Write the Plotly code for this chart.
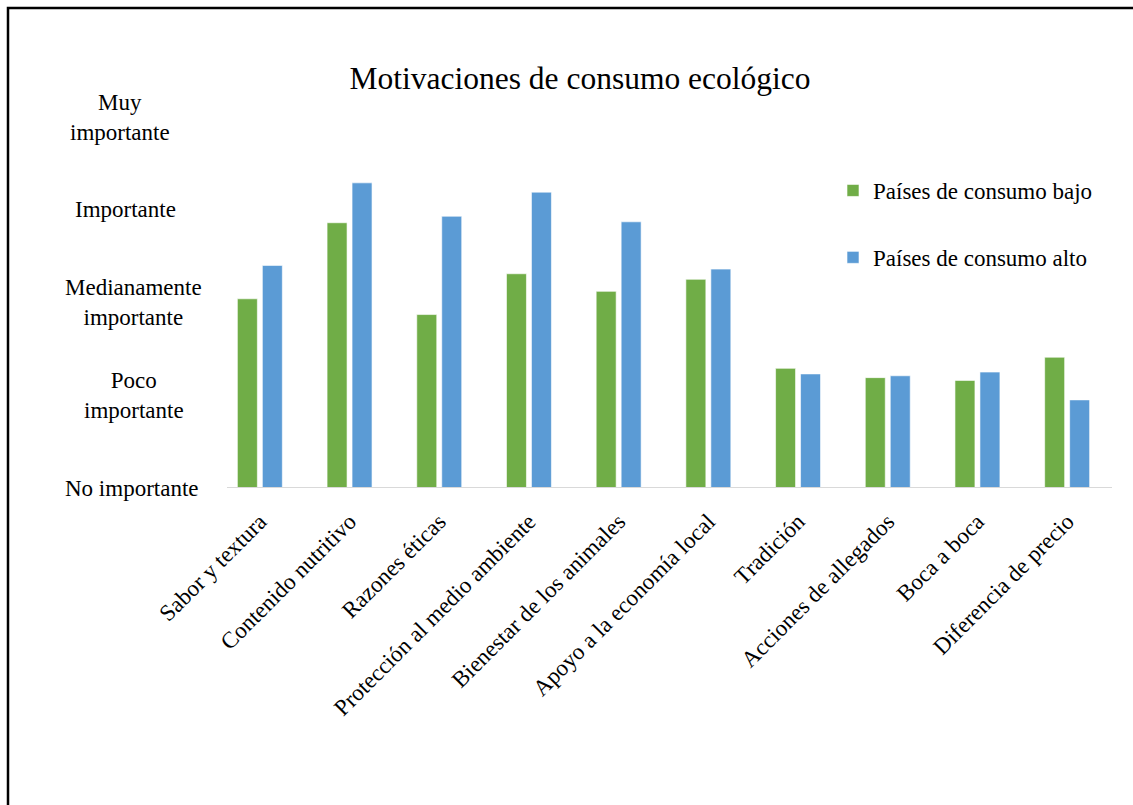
import plotly.graph_objects as go

categories = ["Sabor y textura", "Contenido nutritivo", "Razones éticas",
              "Protección al medio ambiente", "Bienestar de los animales",
              "Apoyo a la economía local", "Tradición", "Acciones de allegados",
              "Boca a boca", "Diferencia de precio"]
bajo = [3.04, 3.86, 2.87, 3.31, 3.12, 3.25, 2.29, 2.19, 2.16, 2.41]
alto = [3.40, 4.29, 3.93, 4.19, 3.87, 3.36, 2.23, 2.21, 2.25, 1.95]
level_vals = [1, 2, 3, 4, 5]
level_text = ["No importante", "Poco<br>importante", "Medianamente<br>importante",
              "Importante", "Muy<br>importante"]
level_x = [132, 134, 133, 125, 120]

FONT = "Liberation Serif, Times New Roman, serif"
W, H = 1133, 805
ML, MR, MT, MB = 215, 21, 100, 317
PW, PH = W - ML - MR, H - MT - MB
UNIT = 92.75
ymax = 1 + PH / UNIT

fig = go.Figure()
fig.add_trace(go.Bar(x=categories, y=bajo, name="Países de consumo bajo",
                     marker=dict(color="#70AD47", line=dict(color="rgba(255,255,255,0.6)", width=1)),
                     legendgroup="a"))
fig.add_trace(go.Bar(x=categories, y=alto, name="Países de consumo alto",
                     marker=dict(color="#5B9BD5", line=dict(color="rgba(255,255,255,0.6)", width=1)),
                     legendgroup="b"))

annotations = []
for v, t, px in zip(level_vals, level_text, level_x):
    annotations.append(dict(x=(px - ML) / PW, xref="paper", y=v, yref="y", text=t,
                            showarrow=False, xanchor="center", yanchor="middle", align="center",
                            font=dict(family=FONT, size=23, color="#000000")))

shapes = [
    dict(type="line", xref="paper", yref="y", x0=(227 - ML) / PW, x1=1, y0=1, y1=1,
         line=dict(color="#d9d9d9", width=2)),
    dict(type="rect", xref="paper", yref="paper",
         x0=(8 - ML) / PW, x1=(W + 12 - ML) / PW,
         y0=(H - MB - (H + 12)) / PH, y1=(H - MB - 8) / PH,
         line=dict(color="#000000", width=2.5), fillcolor="rgba(0,0,0,0)", layer="above"),
]

fig.update_layout(
    width=W, height=H,
    margin=dict(l=ML, r=MR, t=MT, b=MB, autoexpand=False),
    paper_bgcolor="white", plot_bgcolor="white",
    barmode="group", bargap=0.443, bargroupgap=0.2,
    title=dict(text="Motivaciones de consumo ecológico", x=580 / W, xanchor="center",
               y=1 - 78 / H, yanchor="middle",
               font=dict(family=FONT, size=31.5, color="#000000")),
    font=dict(family=FONT, size=23, color="#000000"),
    xaxis=dict(showline=False, ticks="outside", ticklen=10, tickcolor="rgba(0,0,0,0)",
               tickangle=-45, showgrid=False, zeroline=False,
               tickfont=dict(family=FONT, size=23, color="#000000")),
    yaxis=dict(range=[1, ymax], showticklabels=False, showgrid=False, zeroline=False,
               showline=False, ticks=""),
    legend=dict(x=(833 - ML) / PW, xanchor="left", y=(H - MB - 169) / PH, yanchor="top",
                font=dict(family=FONT, size=23, color="#000000"),
                tracegroupgap=34, bgcolor="rgba(0,0,0,0)"),
    annotations=annotations,
    shapes=shapes,
)

fig.write_html("out.html")
